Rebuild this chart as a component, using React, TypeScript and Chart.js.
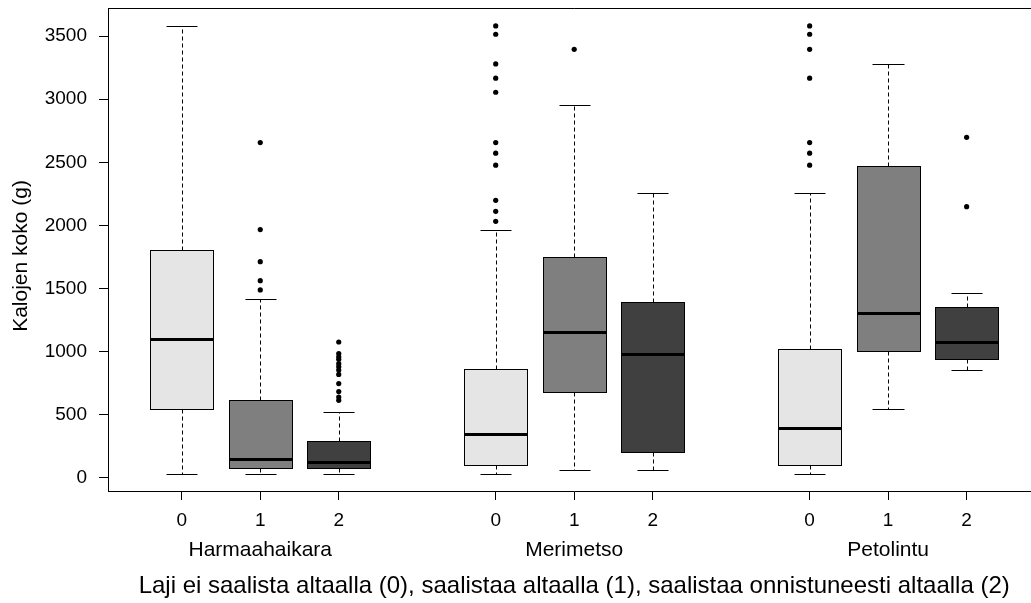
import React, { useEffect, useRef } from "react";
import { Chart, registerables } from "chart.js";

Chart.register(...registerables);

// ---- Data ----
const groups = ["Harmaahaikara", "Merimetso", "Petolintu"];
const levels = ["0", "1", "2"];
const positions = [1, 2, 3, 5, 6, 7, 9, 10, 11];

const whiskerLow = [32, 32, 32, 32, 66, 66, 32, 546, 858];
const q1 = [546, 77, 77, 103, 681, 206, 103, 1008, 945];
const median = [1101, 150, 129, 351, 1159, 982, 396, 1309, 1080];
const q3 = [1808, 615, 293, 866, 1753, 1397, 1024, 2468, 1357];
const whiskerHigh = [3580, 1418, 523, 1962, 2952, 2255, 2255, 3276, 1468];

const outHarmaa0: number[] = [];
const outHarmaa1 = [2656, 1967, 1713, 1563, 1489];
const outHarmaa2 = [1077, 985, 960, 940, 905, 880, 855, 820, 748, 684, 641, 615];
const outMeri0 = [3580, 3514, 3279, 3166, 3055, 2656, 2572, 2477, 2199, 2112, 2033];
const outMeri1 = [3395];
const outMeri2: number[] = [];
const outPeto0 = [3580, 3514, 3395, 3166, 2656, 2572, 2477];
const outPeto1: number[] = [];
const outPeto2 = [2698, 2149];

const outliers = [outHarmaa0, outHarmaa1, outHarmaa2, outMeri0, outMeri1, outMeri2, outPeto0, outPeto1, outPeto2];

const yTicks = [0, 500, 1000, 1500, 2000, 2500, 3000, 3500];
const yTitle = "Kalojen koko (g)";
const xTitle = "Laji ei saalista altaalla (0), saalistaa altaalla (1), saalistaa onnistuneesti altaalla (2)";

const fills = ["#e5e5e5", "#7f7f7f", "#404040"];
const FONT = "'Liberation Sans', Arial, sans-serif";
const BOX_W = 0.8; // in x units

const boxPlugin = {
  id: "boxplotDraw",
  beforeDatasetsDraw(chart: any) {
    const { ctx, scales } = chart;
    const x = scales.x;
    const y = scales.y;
    ctx.save();
    positions.forEach((p, i) => {
      const cxf = x.getPixelForValue(p);
      const cx = Math.round(cxf) + 0.5;
      const half = x.getPixelForValue(p + BOX_W / 2) - cxf;
      const left = Math.round(cxf - half) + 0.5;
      const right = Math.round(cxf + half) + 0.5;
      const capL = Math.round(cxf - half / 2) + 0.5;
      const capR = Math.round(cxf + half / 2) + 0.5;
      const py = (v: number) => Math.round(y.getPixelForValue(v)) + 0.5;
      const yLo = py(whiskerLow[i]);
      const yQ1 = py(q1[i]);
      const yMed = py(median[i]);
      const yQ3 = py(q3[i]);
      const yHi = py(whiskerHigh[i]);

      ctx.strokeStyle = "#000";
      ctx.lineWidth = 1;
      ctx.lineCap = "butt";
      // whiskers (dashed)
      ctx.setLineDash([4, 3]);
      ctx.beginPath();
      ctx.moveTo(cx, yQ3);
      ctx.lineTo(cx, yHi);
      ctx.moveTo(cx, yQ1);
      ctx.lineTo(cx, yLo);
      ctx.stroke();
      ctx.setLineDash([]);
      // caps
      ctx.beginPath();
      ctx.moveTo(capL, yHi);
      ctx.lineTo(capR, yHi);
      ctx.moveTo(capL, yLo);
      ctx.lineTo(capR, yLo);
      ctx.stroke();
      // box
      ctx.fillStyle = fills[i % 3];
      ctx.fillRect(left, yQ3, right - left, yQ1 - yQ3);
      ctx.strokeRect(left, yQ3, right - left, yQ1 - yQ3);
      // median
      ctx.lineWidth = 3;
      ctx.beginPath();
      ctx.moveTo(left, yMed);
      ctx.lineTo(right, yMed);
      ctx.stroke();
    });
    ctx.restore();
  },
  afterDraw(chart: any) {
    const { ctx, chartArea, scales } = chart;
    const x = scales.x;
    ctx.save();
    // top frame line
    ctx.strokeStyle = "#000";
    ctx.lineWidth = 1;
    ctx.beginPath();
    ctx.moveTo(chartArea.left, Math.round(chartArea.top) + 0.5);
    ctx.lineTo(chartArea.right, Math.round(chartArea.top) + 0.5);
    ctx.stroke();
    // group labels
    ctx.fillStyle = "#000";
    ctx.font = `21px ${FONT}`;
    ctx.textAlign = "center";
    ctx.textBaseline = "middle";
    groups.forEach((g, gi) => {
      const px = x.getPixelForValue(positions[gi * 3 + 1]);
      ctx.fillText(g, px, 550);
    });
    // y axis title
    ctx.translate(21, 256);
    ctx.rotate(-Math.PI / 2);
    ctx.fillText(yTitle, 0, 0);
    ctx.restore();
  },
};

export default function App() {
  const ref = useRef<HTMLCanvasElement | null>(null);
  useEffect(() => {
    if (!ref.current) return;
    const points: { x: number; y: number }[] = [];
    outliers.forEach((arr, i) => arr.forEach((v) => points.push({ x: positions[i], y: v })));
    const chart = new Chart(ref.current, {
      type: "scatter",
      data: {
        datasets: [
          {
            data: points,
            pointRadius: 2.6,
            pointHoverRadius: 2.6,
            backgroundColor: "#000",
            borderColor: "#000",
            borderWidth: 0,
          },
        ],
      },
      options: {
        responsive: false,
        animation: false,
        devicePixelRatio: 1,
        events: [],
        layout: { padding: { top: 8, left: 0, right: 0, bottom: 0 } },
        plugins: {
          legend: { display: false },
          tooltip: { enabled: false },
          title: { display: false },
        },
        scales: {
          x: {
            type: "linear",
            position: "bottom",
            min: 0.06,
            max: 11.94,
            afterBuildTicks: (s: any) => {
              s.ticks = positions.map((v) => ({ value: v }));
            },
            afterFit: (s: any) => {
              s.height = 112;
              s.paddingLeft = 0;
              s.paddingRight = 0;
              s.paddingTop = 0;
              s.paddingBottom = 0;
            },
            ticks: {
              autoSkip: false,
              maxRotation: 0,
              minRotation: 0,
              padding: 9,
              color: "#000",
              font: { family: FONT, size: 19 },
              callback: (v: any) => {
                const i = positions.indexOf(Number(v));
                return i >= 0 ? levels[i % 3] : "";
              },
            },
            grid: { drawOnChartArea: false, drawTicks: true, tickLength: 9, color: "#000", tickColor: "#000" },
            border: { display: true, color: "#000", width: 1 },
            title: {
              display: true,
              text: xTitle,
              color: "#000",
              font: { family: FONT, size: 24 },
              padding: { top: 0, bottom: 2 },
            },
          },
          y: {
            type: "linear",
            position: "left",
            min: -103,
            max: 3722,
            afterBuildTicks: (s: any) => {
              s.ticks = yTicks.map((v) => ({ value: v }));
            },
            afterFit: (s: any) => {
              s.width = 108;
              s.paddingLeft = 0;
              s.paddingRight = 0;
              s.paddingTop = 0;
              s.paddingBottom = 0;
            },
            ticks: {
              padding: 12,
              color: "#000",
              font: { family: FONT, size: 19 },
              callback: (v: any) => String(v),
            },
            grid: { drawOnChartArea: false, drawTicks: true, tickLength: 9, color: "#000", tickColor: "#000" },
            border: { display: true, color: "#000", width: 1 },
            title: { display: false },
          },
        },
      },
      plugins: [boxPlugin],
    } as any);
    return () => chart.destroy();
  }, []);

  return (
    <div
      style={{
        position: "absolute",
        left: 0,
        top: 0,
        width: 1031,
        height: 603,
        overflow: "hidden",
        background: "#fff",
      }}
    >
      <canvas ref={ref} width={1043} height={603} style={{ display: "block" }} />
    </div>
  );
}
